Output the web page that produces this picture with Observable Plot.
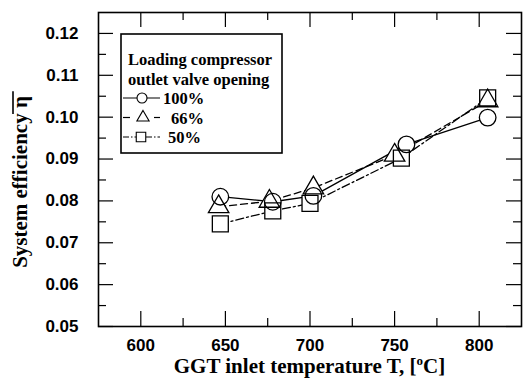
<!DOCTYPE html>
<html><head><meta charset="utf-8">
<script src="https://cdn.jsdelivr.net/npm/d3@7"></script>
<script src="https://cdn.jsdelivr.net/npm/@observablehq/plot@0.6"></script>
<style>body{margin:0;background:#fff}</style>
</head><body><div id="chart"></div>
<script>
// ---- data ----
const seriesNames = ["100%", "66%", "50%"];
const temp100 = [647, 678, 702, 757, 805];
const eff100  = [0.0810, 0.0798, 0.0812, 0.0935, 0.0999];
const temp66  = [646, 676, 702, 750, 805];
const eff66   = [0.0786, 0.0799, 0.0831, 0.0909, 0.1039];
const temp50  = [647, 678, 700, 754, 805];
const eff50   = [0.0745, 0.0776, 0.0794, 0.0902, 0.1046];
const xMajor = [600, 650, 700, 750, 800];
const xMinor = [625, 675, 725, 775];
const yMajor = [0.05, 0.06, 0.07, 0.08, 0.09, 0.10, 0.11, 0.12];
const yMinor = [0.055, 0.065, 0.075, 0.085, 0.095, 0.105, 0.115];
const legendTitle = ["Loading compressor", "outlet valve opening"];
const xTitle = "GGT inlet temperature T, [";
const yTitle = "System efficiency ";

const rows = (ts, es, s) => ts.map((t, i) => ({T: t, eff: es[i], s}));
const d100 = rows(temp100, eff100, seriesNames[0]);
const d66 = rows(temp66, eff66, seriesNames[1]);
const d50 = rows(temp50, eff50, seriesNames[2]);

const W = 523, H = 378;
const mL = 98, mR = 2, mT = 12, mB = 52;
const iw = W - mL - mR, ih = H - mT - mB;
const sans = "'Liberation Sans', Arial, sans-serif";
const serif = "'Liberation Serif', 'Times New Roman', serif";
const dash66 = "7,4";
const dash50 = "8,3,2,3";

const chart = Plot.plot({
  width: W, height: H,
  marginLeft: mL, marginRight: mR, marginTop: mT, marginBottom: mB,
  style: {background: "#fff", overflow: "visible"},
  x: {domain: [575, 825], axis: null},
  y: {domain: [0.05, 0.125], axis: null},
  marks: [
    Plot.line(d100, {x: "T", y: "eff", stroke: "#000", strokeWidth: 1.3}),
    Plot.line(d66, {x: "T", y: "eff", stroke: "#000", strokeWidth: 1.3, strokeDasharray: dash66}),
    Plot.line(d50, {x: "T", y: "eff", stroke: "#000", strokeWidth: 1.3, strokeDasharray: dash50}),
    // white interiors first so lines stop at marker edges
    Plot.dot(d100, {x: "T", y: "eff", symbol: "circle", r: 8.3, fill: "#fff", stroke: null}),
    Plot.dot(d66, {x: "T", y: "eff", symbol: "triangle", r: 7.6, fill: "#fff", stroke: null}),
    Plot.dot(d50, {x: "T", y: "eff", symbol: "square", r: 9, fill: "#fff", stroke: null}),
    // outlines
    Plot.dot(d100, {x: "T", y: "eff", symbol: "circle", r: 8.3, fill: "none", stroke: "#000", strokeWidth: 1.3}),
    Plot.dot(d66, {x: "T", y: "eff", symbol: "triangle", r: 7.6, fill: "none", stroke: "#000", strokeWidth: 1.3}),
    Plot.dot(d50, {x: "T", y: "eff", symbol: "square", r: 9, fill: "none", stroke: "#000", strokeWidth: 1.3}),
    // inward ticks on all four sides
    Plot.tickY(yMajor, {y: d => d, insetRight: iw - 15, stroke: "#000", strokeWidth: 1.2}),
    Plot.tickY(yMinor, {y: d => d, insetRight: iw - 8, stroke: "#000", strokeWidth: 1.2}),
    Plot.tickY(yMajor, {y: d => d, insetLeft: iw - 15, stroke: "#000", strokeWidth: 1.2}),
    Plot.tickY(yMinor, {y: d => d, insetLeft: iw - 8, stroke: "#000", strokeWidth: 1.2}),
    Plot.tickX(xMajor, {x: d => d, insetTop: ih - 15, stroke: "#000", strokeWidth: 1.2}),
    Plot.tickX(xMinor, {x: d => d, insetTop: ih - 8, stroke: "#000", strokeWidth: 1.2}),
    Plot.tickX(xMajor, {x: d => d, insetBottom: ih - 15, stroke: "#000", strokeWidth: 1.2}),
    Plot.tickX(xMinor, {x: d => d, insetBottom: ih - 8, stroke: "#000", strokeWidth: 1.2}),
    Plot.frame({stroke: "#000", strokeWidth: 1.6}),
    Plot.axisY(yMajor, {tickSize: 0, tickPadding: 20, tickFormat: d3.format(".2f"), label: null,
      fontSize: 17, fontWeight: "bold", fontFamily: sans, fill: "#000"}),
    Plot.axisX(xMajor, {tickSize: 0, tickPadding: 12, tickFormat: d3.format("d"), label: null,
      fontSize: 17, fontWeight: "bold", fontFamily: sans, fill: "#000"})
  ]
});
document.getElementById("chart").appendChild(chart);

// ---- titles and in-plot legend ----
const svg = d3.select(chart);
const xt = svg.append("text")
  .attr("x", mL + iw / 2).attr("y", 373)
  .attr("text-anchor", "middle")
  .attr("font-family", serif).attr("font-weight", "bold").attr("font-size", 21);
xt.append("tspan").text(xTitle);
xt.append("tspan").attr("font-size", 13).attr("dy", -8).text("o");
xt.append("tspan").attr("dy", 8).text("C]");

const yg = svg.append("g").attr("transform", `translate(27,182) rotate(-90)`);
const yt = yg.append("text").attr("text-anchor", "middle")
  .attr("font-family", serif).attr("font-weight", "bold").attr("font-size", 21);
yt.append("tspan").text(yTitle);
yt.append("tspan").text("η");
{
  const node = yt.node();
  const L = node.getComputedTextLength();
  const n = node.getNumberOfChars();
  const wEta = node.getSubStringLength(n - 1, 1);
  yg.append("line").attr("x1", L / 2 - wEta - 6).attr("x2", L / 2 + 5)
    .attr("y1", -14).attr("y2", -14).attr("stroke", "#000").attr("stroke-width", 1.6);
}

const lg = svg.append("g").attr("text-anchor", "start");
lg.append("rect").attr("x", 121).attr("y", 34).attr("width", 161).attr("height", 119)
  .attr("fill", "#fff").attr("stroke", "#000").attr("stroke-width", 1.6);
const lx = 128, base = 65, step = 19.5;
legendTitle.forEach((t, i) => {
  lg.append("text").attr("x", lx).attr("y", base + i * step).attr("text-anchor", "start")
    .attr("font-family", serif).attr("font-weight", "bold").attr("font-size", 16.5).text(t);
});
const legendItems = [
  {name: seriesNames[0], segs: [[123, 160]], dash: null, cx: 142, sym: d3.symbolCircle, size: Math.PI * 25, tx: 163},
  {name: seriesNames[1], segs: [[123, 130], [154, 160]], dash: null, cx: 143, sym: d3.symbolTriangle, size: 0.433 * 150, tx: 171},
  {name: seriesNames[2], segs: [[123, 160]], dash: "6,2,1.5,2", cx: 141, sym: d3.symbolSquare, size: 90, tx: 168}
];
legendItems.forEach((it, i) => {
  const y = base + (i + 2) * step;
  const cy = y - 6;
  it.segs.forEach(([a, b]) => {
    lg.append("line").attr("x1", a).attr("x2", b).attr("y1", cy).attr("y2", cy)
      .attr("stroke", "#000").attr("stroke-width", 1.2).attr("stroke-dasharray", it.dash);
  });
  lg.append("path").attr("d", d3.symbol(it.sym, it.size)())
    .attr("transform", `translate(${it.cx},${cy})`)
    .attr("fill", "#fff").attr("stroke", "#000").attr("stroke-width", 1.1);
  lg.append("text").attr("x", it.tx).attr("y", y).attr("text-anchor", "start")
    .attr("font-family", serif).attr("font-weight", "bold").attr("font-size", 16.5).text(it.name);
});
</script>
</body></html>
